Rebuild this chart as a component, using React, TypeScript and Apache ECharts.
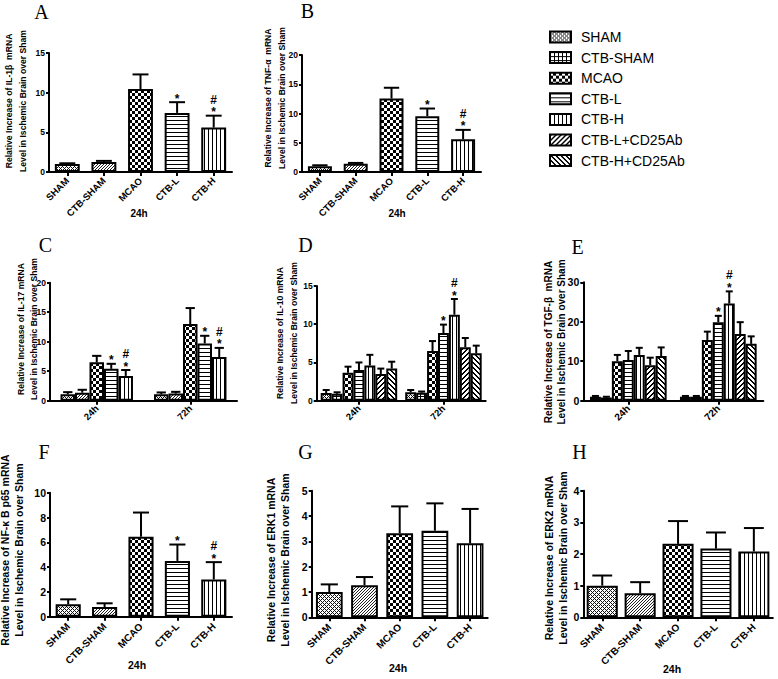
import React, { useEffect, useRef } from 'react';
import * as echarts from 'echarts';

const FONT = '"Liberation Sans", Arial, Helvetica, sans-serif';
const SERIF = '"Liberation Serif", "Times New Roman", serif';

// ---------- categories ----------
const groups5 = ['SHAM', 'CTB-SHAM', 'MCAO', 'CTB-L', 'CTB-H'];
const groups7 = ['SHAM', 'CTB-SHAM', 'MCAO', 'CTB-L', 'CTB-H', 'CTB-L+CD25Ab', 'CTB-H+CD25Ab'];
const timePoints = ['24h', '72h'];

// ---------- A: IL-1β ----------
const il1bMean = [1.0, 1.25, 10.45, 7.45, 5.6];
const il1bErr = [0.1, 0.15, 1.85, 1.35, 1.5];
const il1bSig = ['', '', '', '*', '#*'];
// ---------- B: TNF-α ----------
const tnfMean = [1.0, 1.4, 12.55, 9.55, 5.6];
const tnfErr = [0.15, 0.15, 1.85, 1.3, 1.6];
const tnfSig = ['', '', '', '*', '#*'];
// ---------- C: IL-17 (per group: [24h, 72h]) ----------
const il17Mean = [[1.1, 1.1], [1.35, 1.2], [6.5, 13.0], [5.4, 9.7], [4.2, 7.4]];
const il17Err = [[0.35, 0.3], [0.5, 0.3], [1.1, 2.7], [0.85, 1.3], [1.0, 1.55]];
const il17Sig = [['', ''], ['', ''], ['', ''], ['*', '*'], ['#*', '#*']];
// ---------- D: IL-10 ----------
const il10Mean = [[1.0, 1.1], [0.9, 1.05], [3.65, 6.5], [4.0, 8.85], [4.6, 11.25], [3.5, 7.0], [4.2, 6.2]];
const il10Err = [[0.4, 0.3], [0.2, 0.15], [0.8, 1.3], [1.0, 1.1], [1.4, 2.05], [0.7, 1.2], [0.9, 1.0]];
const il10Sig = [['', ''], ['', ''], ['', ''], ['', '*'], ['', '#*'], ['', ''], ['', '']];
// ---------- E: TGF-β ----------
const tgfMean = [[1.0, 1.0], [0.8, 1.0], [10.0, 15.4], [10.3, 19.9], [11.6, 24.6], [9.0, 16.9], [11.3, 14.4]];
const tgfErr = [[0.2, 0.2], [0.2, 0.2], [1.6, 2.1], [2.3, 1.6], [1.8, 3.1], [1.9, 3.0], [2.2, 1.9]];
const tgfSig = [['', ''], ['', ''], ['', ''], ['', '*'], ['', '#*'], ['', ''], ['', '']];
// ---------- F: NF-κB p65 ----------
const nfkbMean = [1.0, 0.78, 6.45, 4.5, 3.0];
const nfkbErr = [0.4, 0.3, 1.95, 1.32, 1.4];
const nfkbSig = ['', '', '', '*', '#*'];
// ---------- G: ERK1 ----------
const erk1Mean = [1.0, 1.27, 3.32, 3.42, 2.92];
const erk1Err = [0.3, 0.32, 1.06, 1.08, 1.36];
const erk1Sig = ['', '', '', '', ''];
// ---------- H: ERK2 ----------
const erk2Mean = [1.0, 0.76, 2.32, 2.17, 2.08];
const erk2Err = [0.32, 0.35, 0.72, 0.51, 0.74];
const erk2Sig = ['', '', '', '', ''];

const titleTail = '\nLevel in Ischemic Brain over Sham';

function makePattern(w: number, h: number, on: (x: number, y: number) => boolean, fg = '#000') {
  const c = document.createElement('canvas');
  c.width = w;
  c.height = h;
  const ctx = c.getContext('2d')!;
  ctx.fillStyle = '#fff';
  ctx.fillRect(0, 0, w, h);
  ctx.fillStyle = fg;
  for (let y = 0; y < h; y++) for (let x = 0; x < w; x++) if (on(x, y)) ctx.fillRect(x, y, 1, 1);
  return { image: c, repeat: 'repeat' };
}

export default function App() {
  const ref = useRef<HTMLDivElement>(null);
  useEffect(() => {
    const chart = echarts.init(ref.current!, null, { renderer: 'svg' });
    const P: Record<string, any> = {
      sham: makePattern(4, 4, (x, y) => (x + y) % 4 === 0 || (x - y + 4) % 4 === 0, '#111'),
      diagFine: makePattern(3, 3, (x, y) => (x + y) % 3 === 0, '#222'),
      grid: makePattern(4, 4, (x, y) => x === 0 || y === 0),
      checker: makePattern(6, 6, (x, y) => (x < 3) !== (y < 3)),
      hLines: makePattern(4, 4, (x, y) => y === 0),
      vLines: makePattern(4, 4, (x, y) => x === 0),
      diagL: makePattern(5, 5, (x, y) => (x + y) % 5 < 2),
      diagR: makePattern(5, 5, (x, y) => (((x - y) % 5) + 5) % 5 < 2),
    };
    const pats5 = ['sham', 'diagFine', 'checker', 'hLines', 'vLines'];
    const pats7 = ['sham', 'grid', 'checker', 'hLines', 'vLines', 'diagL', 'diagR'];

    const panels: any[] = [
      { kind: 'single', mean: il1bMean, err: il1bErr, sig: il1bSig, grid: { left: 49, top: 53, width: 183, height: 119 }, max: 15, interval: 5, gap: 0.32, xName: '24h', nx: 139, ny: 213, tickFs: 8.5, labelFs: 9.5, labelMargin: 7, nameFs: 10, title: 'Relative Increase of IL-1β  mRNA' + titleTail, tx: 16, ty: 101, tfs: 8.6, letter: 'A', lx: 41.5, ly: 11.5 },
      { kind: 'single', mean: tnfMean, err: tnfErr, sig: tnfSig, grid: { left: 302, top: 55, width: 179, height: 117 }, max: 20, interval: 5, gap: 0.33, xName: '24h', nx: 397, ny: 213, tickFs: 8.5, labelFs: 9.5, labelMargin: 7, nameFs: 10, title: 'Relative Increase of TNF-α  mRNA' + titleTail, tx: 275, ty: 98, tfs: 8.6, letter: 'B', lx: 307.5, ly: 11.2 },
      { kind: 'group', names: groups5, pats: ['sham', 'diagFine', 'checker', 'hLines', 'vLines'], mean: il17Mean, err: il17Err, sig: il17Sig, grid: { left: 50, top: 282.7, width: 187, height: 118 }, max: 20, interval: 5, gap: 0.225, tickFs: 8.5, labelFs: 9.5, labelMargin: 6, title: 'Relative Increase of IL-17 mRNA' + titleTail, tx: 27.5, ty: 329, tfs: 8.6, letter: 'C', lx: 45.5, ly: 245 },
      { kind: 'group', names: groups7, pats: pats7, mean: il10Mean, err: il10Err, sig: il10Sig, grid: { left: 316.7, top: 286, width: 169, height: 114.7 }, max: 15, interval: 5, gap: 0.095, tickFs: 8.5, labelFs: 9.5, labelMargin: 6, title: 'Relative Increase of IL-10 mRNA' + titleTail, tx: 287, ty: 333, tfs: 8.6, letter: 'D', lx: 305.5, ly: 245 },
      { kind: 'group', names: groups7, pats: pats7, mean: tgfMean, err: tgfErr, sig: tgfSig, grid: { left: 583.3, top: 282.3, width: 180, height: 118.4 }, max: 30, interval: 10, gap: 0.148, tickFs: 10.5, labelFs: 10, labelMargin: 6, title: 'Relative Increase of TGF-β  mRNA' + titleTail, tx: 555, ty: 342, tfs: 10, letter: 'E', lx: 577.5, ly: 246.5 },
      { kind: 'single', mean: nfkbMean, err: nfkbErr, sig: nfkbSig, grid: { left: 50, top: 492.7, width: 182, height: 124 }, max: 10, interval: 2, gap: 0.31, xName: '24h', nx: 137, ny: 665, tickFs: 10.5, labelFs: 10, labelMargin: 8, nameFs: 10.5, title: 'Relative Increase of NF-κ B p65 mRNA' + titleTail, tx: 12, ty: 550, tfs: 10.5, letter: 'F', lx: 44, ly: 451.5 },
      { kind: 'single', mean: erk1Mean, err: erk1Err, sig: erk1Sig, grid: { left: 311.7, top: 490.7, width: 176, height: 126.6 }, max: 5, interval: 1, gap: 0.24, xName: '24h', nx: 398, ny: 668, tickFs: 10.5, labelFs: 10, labelMargin: 8, nameFs: 10.5, title: 'Relative Increase of ERK1 mRNA' + titleTail, tx: 278, ty: 560, tfs: 10.5, letter: 'G', lx: 305.5, ly: 451.5 },
      { kind: 'single', mean: erk2Mean, err: erk2Err, sig: erk2Sig, grid: { left: 583.3, top: 490.7, width: 189.5, height: 126.6 }, max: 4, interval: 1, gap: 0.18, xName: '24h', nx: 672, ny: 669, tickFs: 10.5, labelFs: 10, labelMargin: 8, nameFs: 10.5, title: 'Relative Increase of ERK2 mRNA' + titleTail, tx: 556, ty: 558, tfs: 10.5, letter: 'H', lx: 579.5, ly: 451.5 },
    ];

    const grids: any[] = [];
    const xAxes: any[] = [];
    const yAxes: any[] = [];
    const series: any[] = [];
    const graphics: any[] = [];
    const axisLineStyle = { color: '#000', width: 2 };
    const centered = { align: 'center', verticalAlign: 'middle', textAlign: 'center', textVerticalAlign: 'middle' };

    const errorSeries = (gi: number, rows: number[][], sigs: string[], n: number, gap: number) => ({
      type: 'custom',
      name: 'err' + gi,
      xAxisIndex: gi,
      yAxisIndex: gi,
      z: 5,
      silent: true,
      data: rows,
      renderItem: (params: any, api: any) => {
        const ci = api.value(0);
        const mean = api.value(1);
        const err = api.value(2);
        const si = api.value(3);
        const W = api.size([1, 0])[0];
        const groupW = W * (1 - gap);
        const bw = groupW / n;
        const p0 = api.coord([ci, mean]);
        const p1 = api.coord([ci, mean + err]);
        const x = p0[0] - groupW / 2 + (si + 0.5) * bw;
        const half = Math.max(3, bw * 0.32);
        const st = { stroke: '#000', lineWidth: 2 };
        const children: any[] = [
          { type: 'line', shape: { x1: x, y1: p0[1], x2: x, y2: p1[1] }, style: st },
          { type: 'line', shape: { x1: x - half, y1: p1[1], x2: x + half, y2: p1[1] }, style: st },
        ];
        const s = sigs[params.dataIndex] || '';
        const txt = (t: string, y: number) => ({
          type: 'text',
          x,
          y,
          style: { text: t, font: 'bold 12px ' + FONT, fill: '#000', ...centered },
        });
        if (s.indexOf('*') >= 0) children.push(txt('*', p1[1] - 3.4));
        if (s.indexOf('#') >= 0) children.push(txt('#', p1[1] - 16));
        return { type: 'group', children };
      },
    });

    panels.forEach((p, gi) => {
      grids.push({ ...p.grid, containLabel: false, outerBoundsMode: 'none' });
      const cats = p.kind === 'single' ? groups5 : timePoints;
      xAxes.push({
        gridIndex: gi,
        type: 'category',
        data: cats,
        axisLine: { show: true, lineStyle: axisLineStyle },
        axisTick: { show: true, alignWithLabel: true, length: 4, lineStyle: axisLineStyle },
        axisLabel: { rotate: 45, interval: 0, margin: p.labelMargin, color: '#000', fontWeight: 'bold', fontSize: p.labelFs, fontFamily: FONT },
        splitLine: { show: false },
      });
      yAxes.push({
        gridIndex: gi,
        type: 'value',
        min: 0,
        max: p.max,
        interval: p.interval,
        axisLine: { show: true, lineStyle: axisLineStyle },
        axisTick: { show: true, length: 3, lineStyle: axisLineStyle },
        axisLabel: { margin: 4, color: '#000', fontWeight: 'bold', fontSize: p.tickFs, fontFamily: FONT },
        splitLine: { show: false },
      });
      const gapStr = (p.gap * 100).toFixed(1) + '%';
      if (p.kind === 'single') {
        series.push({
          type: 'bar',
          name: 'panel' + gi,
          xAxisIndex: gi,
          yAxisIndex: gi,
          barCategoryGap: gapStr,
          itemStyle: { borderColor: '#000', borderWidth: 2 },
          data: p.mean.map((v: number, i: number) => ({ value: v, itemStyle: { color: P[pats5[i]], borderColor: '#000', borderWidth: 2 } })),
        });
        const rows = p.mean.map((v: number, i: number) => [i, v, p.err[i], 0]);
        series.push(errorSeries(gi, rows, p.sig, 1, p.gap));
      } else {
        const rows: number[][] = [];
        const sigs: string[] = [];
        p.names.forEach((nm: string, si: number) => {
          series.push({
            type: 'bar',
            name: nm,
            xAxisIndex: gi,
            yAxisIndex: gi,
            barGap: '0%',
            barCategoryGap: gapStr,
            itemStyle: { color: P[p.pats[si]], borderColor: '#000', borderWidth: 2 },
            data: p.mean[si],
          });
          p.mean[si].forEach((v: number, ci: number) => {
            rows.push([ci, v, p.err[si][ci], si]);
            sigs.push(p.sig[si][ci]);
          });
        });
        series.push(errorSeries(gi, rows, sigs, p.names.length, p.gap));
      }
      graphics.push({
        type: 'text',
        x: p.tx,
        y: p.ty,
        rotation: Math.PI / 2,
        style: { text: p.title, font: 'bold ' + p.tfs + 'px ' + FONT, lineHeight: 13.5, fill: '#000', ...centered },
      });
      graphics.push({
        type: 'text',
        x: p.lx,
        y: p.ly,
        style: { text: p.letter, font: '20px ' + SERIF, fill: '#000', ...centered },
      });
      if (p.xName) {
        graphics.push({
          type: 'text',
          x: p.nx,
          y: p.ny,
          style: { text: p.xName, font: 'bold ' + p.nameFs + 'px ' + FONT, fill: '#000', ...centered },
        });
      }
    });

    const option: any = {
      animation: false,
      backgroundColor: '#fff',
      grid: grids,
      xAxis: xAxes,
      yAxis: yAxes,
      series,
      graphic: graphics,
      legend: {
        orient: 'vertical',
        left: 544,
        top: 25,
        padding: 5,
        itemWidth: 21,
        itemHeight: 11,
        itemGap: 6.6,
        selectedMode: false,
        textStyle: { fontSize: 14, color: '#000', fontFamily: FONT, padding: [0, 0, 0, 5] },
        data: groups7.map((nm, i) => ({
          name: nm,
          icon: 'rect',
          itemStyle: { color: P[pats7[i]], borderColor: '#000', borderWidth: 2 },
        })),
      },
    };
    chart.setOption(option);
    return () => chart.dispose();
  }, []);
  return <div ref={ref} style={{ position: 'absolute', left: 0, top: 0, width: 778, height: 679, background: '#fff' }} />;
}
